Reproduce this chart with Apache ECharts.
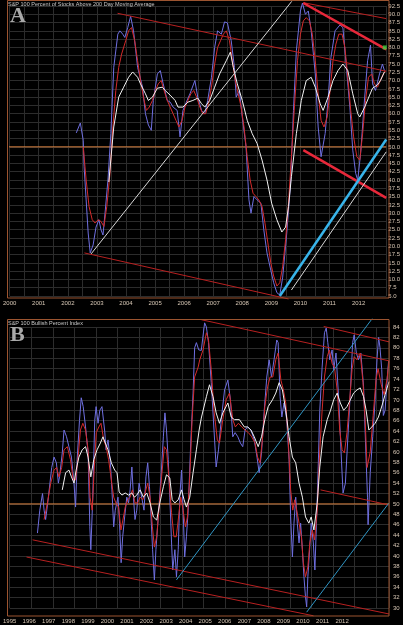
<!DOCTYPE html>
<html><head><meta charset="utf-8">
<script src="https://cdn.jsdelivr.net/npm/echarts@6/dist/echarts.min.js"></script>
<style>html,body{margin:0;padding:0;background:#000;}#c{width:403px;height:625px;}</style>
</head><body><div id="c"></div>
<script>
// ---------- Panel A : S&P 100 Percent of Stocks Above 200 Day Moving Average ----------
const titleA = 'S&P 100 Percent of Stocks Above 200 Day Moving Average';
const blueA = [[2002.29,54.2],[2002.43,57.2],[2002.53,52],[2002.56,44],[2002.63,34],[2002.70,24],[2002.77,18],[2002.87,20.4],[2002.97,25.8],[2003.07,28],[2003.14,25],[2003.21,23.4],[2003.28,30],[2003.38,40],[2003.48,54],[2003.58,74],[2003.72,84],[2003.79,85],[2003.89,84],[2003.96,83],[2004.06,86],[2004.16,89.4],[2004.26,85],[2004.40,74],[2004.57,68],[2004.67,60],[2004.77,56.6],[2004.87,55],[2004.94,64],[2005.08,72],[2005.18,73],[2005.28,69],[2005.42,64],[2005.52,63.5],[2005.62,62],[2005.76,61],[2005.86,53],[2005.96,61],[2006.10,64],[2006.20,66],[2006.37,70],[2006.47,65],[2006.60,61],[2006.71,60],[2006.81,64],[2006.94,71],[2007.05,80],[2007.15,85],[2007.28,84],[2007.39,87.7],[2007.49,87.4],[2007.62,82],[2007.73,74],[2007.79,65],[2007.90,67],[2008.00,59],[2008.13,50],[2008.23,34],[2008.30,30],[2008.40,35],[2008.51,34],[2008.64,33],[2008.74,25],[2008.85,18],[2008.98,12.8],[2009.08,9],[2009.19,6],[2009.29,5.3],[2009.39,10.7],[2009.53,24],[2009.66,39],[2009.76,61],[2009.86,79],[2010.00,91],[2010.07,93.4],[2010.17,90],[2010.27,91],[2010.37,85],[2010.51,72],[2010.61,56],[2010.71,47],[2010.85,54],[2010.95,64],[2011.05,77],[2011.19,85],[2011.36,86.8],[2011.46,86],[2011.56,76],[2011.70,62],[2011.80,49],[2011.90,42],[2011.97,40],[2012.07,48],[2012.21,65],[2012.31,76],[2012.41,80.7],[2012.48,69],[2012.58,67],[2012.72,72],[2012.82,75],[2012.89,73]];
const redA = [[2002.53,50],[2002.63,40],[2002.73,32],[2002.84,28],[2002.94,27],[2003.04,28],[2003.14,27.5],[2003.24,26],[2003.34,32],[2003.45,42],[2003.55,56],[2003.65,67],[2003.75,74],[2003.85,78],[2003.99,82],[2004.09,85],[2004.19,86],[2004.30,82],[2004.40,76],[2004.50,70],[2004.60,65],[2004.70,61],[2004.80,62],[2004.91,64],[2005.01,67],[2005.11,69],[2005.21,70],[2005.31,67],[2005.42,64],[2005.52,62],[2005.62,60],[2005.72,58],[2005.82,56],[2005.93,58],[2006.03,62],[2006.13,64],[2006.23,66],[2006.33,67],[2006.43,65],[2006.54,62],[2006.64,60],[2006.74,60],[2006.84,63],[2006.94,68],[2007.05,75],[2007.15,80],[2007.25,82],[2007.35,84],[2007.45,85],[2007.56,82],[2007.66,76],[2007.76,70],[2007.86,66],[2007.96,62],[2008.06,56],[2008.17,47],[2008.27,40],[2008.37,36],[2008.47,35],[2008.57,34],[2008.68,32],[2008.78,27],[2008.88,21],[2008.98,15],[2009.08,11],[2009.19,8],[2009.29,9],[2009.39,14],[2009.49,22],[2009.59,33],[2009.69,47],[2009.80,63],[2009.90,76],[2010.00,84],[2010.10,88],[2010.20,89],[2010.31,88],[2010.41,84],[2010.51,76],[2010.61,66],[2010.71,58],[2010.81,56],[2010.92,59],[2011.02,67],[2011.12,76],[2011.22,81],[2011.32,84],[2011.43,84],[2011.53,80],[2011.63,71],[2011.73,61],[2011.83,53],[2011.94,47],[2012.04,46],[2012.14,54],[2012.24,64],[2012.34,71],[2012.45,72],[2012.55,69],[2012.65,68],[2012.75,70],[2012.85,72],[2012.92,73]];
const whiteA = [[2003.41,39.4],[2003.58,56],[2003.75,65],[2003.92,68],[2004.09,71],[2004.23,72.6],[2004.40,71],[2004.50,69],[2004.67,66],[2004.77,64],[2004.91,65],[2005.08,67.7],[2005.25,68],[2005.35,67],[2005.52,65.6],[2005.69,64],[2005.79,62],[2005.96,62],[2006.13,63.5],[2006.30,64],[2006.47,64.7],[2006.60,63],[2006.71,62],[2006.88,64],[2007.05,68],[2007.22,72],[2007.45,76],[2007.59,78.6],[2007.69,74],[2007.83,69],[2008.00,64],[2008.17,58],[2008.34,54],[2008.51,51],[2008.68,46],[2008.85,40],[2009.01,33],[2009.19,28],[2009.36,24.3],[2009.49,25.8],[2009.59,32],[2009.69,41],[2009.86,54],[2010.03,64],[2010.20,70],[2010.37,71],[2010.51,68],[2010.68,63],[2010.78,61],[2010.95,65],[2011.12,70],[2011.29,73],[2011.46,75],[2011.63,73],[2011.80,66],[2011.97,60],[2012.04,59],[2012.21,62],[2012.38,65.6],[2012.48,67.7],[2012.65,68.7],[2012.75,70],[2012.89,72.6]];
// trend lines (endpoints) panel A
const aRedUpper = [[2003.71,90.3],[2012.95,72.8]];
const aRedLower = [[2002.57,18.0],[2009.59,4.1]];
const aRedTopRight = [[2010.10,93.5],[2012.95,88.7]];
const aThickRedUpper = [[2010.10,93.4],[2012.95,79.4]];
const aThickRedLower = [[2010.10,49.0],[2012.95,34.6]];
const aCyan = [[2009.29,5.0],[2012.95,52.2]];
const aWhiteTrend1 = [[2002.80,17.7],[2009.70,93.9]];
const aWhiteTrend2 = [[2009.69,6.8],[2012.95,48.5]];
const aLevel50 = [[1999.75,50],[2012.95,50]];
const aMarker = [[2012.9,80]];

// ---------- Panel B : S&P 100 Bullish Percent Index ----------
const titleB = 'S&P 100 Bullish Percent Index';
const blueB = [[1996.42,44.4],[1996.54,48.8],[1996.68,52],[1996.76,48.8],[1996.84,47],[1996.98,51.3],[1997.15,57],[1997.27,59],[1997.39,57.9],[1997.49,54],[1997.55,55.2],[1997.69,59.8],[1997.78,64.2],[1997.90,63],[1998.03,61],[1998.16,59],[1998.29,54],[1998.37,49.4],[1998.45,58.5],[1998.57,66],[1998.66,70.4],[1998.76,68.7],[1998.88,64.8],[1999.01,59.8],[1999.10,45.6],[1999.15,41.2],[1999.25,51.3],[1999.35,66],[1999.42,68.7],[1999.52,65.5],[1999.61,68],[1999.72,68.7],[1999.86,64],[1999.93,60.4],[2000.03,62.3],[2000.15,57.9],[2000.23,52.7],[2000.32,45.6],[2000.40,48.8],[2000.54,51.3],[2000.62,46.3],[2000.70,38.7],[2000.78,43.7],[2000.88,47.5],[2000.99,51.3],[2001.08,50.2],[2001.16,52.7],[2001.25,57.1],[2001.33,51.3],[2001.41,47],[2001.50,48.8],[2001.62,54],[2001.75,51.3],[2001.87,48.8],[2001.97,55.2],[2002.06,57.9],[2002.15,53.3],[2002.23,47.5],[2002.31,41.2],[2002.40,35.4],[2002.48,41.2],[2002.60,47.5],[2002.74,55.2],[2002.86,62.9],[2002.94,67.5],[2003.02,64.2],[2003.11,58.5],[2003.19,51.3],[2003.28,42.5],[2003.34,37.3],[2003.45,41.2],[2003.53,36],[2003.62,41.2],[2003.70,51.3],[2003.79,56.5],[2003.87,48.8],[2003.95,39.8],[2004.04,43.7],[2004.13,48.8],[2004.26,61.7],[2004.38,71.3],[2004.46,80],[2004.55,81],[2004.67,79.6],[2004.80,79.5],[2004.97,84.8],[2005.06,84],[2005.17,81],[2005.31,73.3],[2005.45,64.2],[2005.56,57.1],[2005.68,60.4],[2005.82,66.2],[2005.99,71.9],[2006.16,73.8],[2006.29,70],[2006.41,62.9],[2006.53,63.7],[2006.67,62.9],[2006.80,61.7],[2006.92,61],[2007.04,64.2],[2007.17,64.8],[2007.34,64.2],[2007.51,62.3],[2007.65,59],[2007.76,56],[2007.88,59.8],[2008.02,68],[2008.15,74.4],[2008.27,77.7],[2008.39,74.4],[2008.52,77.7],[2008.66,81.5],[2008.73,81],[2008.83,70.6],[2008.92,66.7],[2009.03,69.4],[2009.17,66.2],[2009.29,58.5],[2009.37,47.5],[2009.46,39.8],[2009.54,46.3],[2009.63,51.3],[2009.71,46.3],[2009.80,42.5],[2009.88,46.3],[2009.97,41.2],[2010.05,36],[2010.13,32.1],[2010.19,30.2],[2010.25,36],[2010.34,41.2],[2010.42,46.3],[2010.53,42.5],[2010.61,37.3],[2010.69,46.3],[2010.78,57.1],[2010.86,68],[2010.98,76.3],[2011.10,82.9],[2011.19,83.8],[2011.27,81],[2011.37,77.7],[2011.49,79.6],[2011.57,75.8],[2011.69,79],[2011.83,70],[2011.95,59.8],[2012.05,52.1],[2012.17,54],[2012.28,61.7],[2012.42,71.3],[2012.54,81],[2012.62,82.5],[2012.73,79],[2012.84,77.7],[2012.96,79],[2013.10,72.5],[2013.20,61.7],[2013.30,51.3],[2013.33,46],[2013.44,56],[2013.57,63],[2013.69,70],[2013.79,78],[2013.87,82],[2013.94,80],[2014.03,75.8],[2014.11,67],[2014.20,68],[2014.28,72.5],[2014.38,77.5]];
const redB = [[1996.76,47],[1996.93,50.2],[1997.10,54],[1997.27,56.5],[1997.40,57],[1997.52,55.2],[1997.66,57],[1997.78,60.4],[1997.95,61],[1998.11,58.5],[1998.25,54.6],[1998.37,54.6],[1998.50,59],[1998.62,64.2],[1998.74,65.5],[1998.88,64.2],[1999.01,60.4],[1999.11,51.3],[1999.22,48.8],[1999.32,56.5],[1999.43,63.7],[1999.56,64.8],[1999.67,65.5],[1999.81,62.3],[1999.93,61],[2000.06,58.5],[2000.20,54.6],[2000.32,51.3],[2000.43,50.2],[2000.57,49.4],[2000.69,45],[2000.79,46.9],[2000.91,49.4],[2001.04,50.8],[2001.16,51.3],[2001.28,52.7],[2001.41,50.2],[2001.55,50.2],[2001.67,51.3],[2001.81,50.8],[2001.92,52.1],[2002.06,54],[2002.18,51.3],[2002.30,45.6],[2002.40,41.7],[2002.52,43.7],[2002.63,48.8],[2002.77,55.2],[2002.91,61],[2003.02,60.4],[2003.14,55.2],[2003.28,48.3],[2003.40,43.7],[2003.52,43.7],[2003.62,46.9],[2003.75,51.3],[2003.87,48.8],[2003.99,45.6],[2004.09,47.5],[2004.21,55.2],[2004.33,66.2],[2004.46,74.4],[2004.64,76.3],[2004.72,77.7],[2004.89,79.6],[2005.06,82.9],[2005.17,81.5],[2005.31,75.8],[2005.45,68],[2005.62,62.3],[2005.73,61.7],[2005.90,66.2],[2006.07,70],[2006.24,71.3],[2006.41,66.2],[2006.54,64.8],[2006.70,65.5],[2006.87,64.8],[2007.04,64.2],[2007.21,63.7],[2007.38,62.9],[2007.55,61.7],[2007.68,59],[2007.80,57.9],[2007.94,62.9],[2008.05,68.7],[2008.19,72.5],[2008.32,74.4],[2008.46,74.4],[2008.61,77.7],[2008.73,79],[2008.87,73.8],[2009.00,71.9],[2009.12,69.4],[2009.24,62.9],[2009.37,52.7],[2009.48,48.8],[2009.58,50.8],[2009.68,48.8],[2009.80,46.3],[2009.92,43.7],[2010.02,38.7],[2010.13,36],[2010.25,37.9],[2010.35,42.5],[2010.48,45],[2010.59,43.1],[2010.73,48.8],[2010.86,60.4],[2010.98,68],[2011.10,74.4],[2011.24,78.3],[2011.35,79.6],[2011.49,77],[2011.61,76.3],[2011.75,71.9],[2011.88,64.2],[2012.00,60.4],[2012.12,59.8],[2012.25,63.7],[2012.39,70],[2012.51,75.8],[2012.62,78.3],[2012.76,77.7],[2012.93,79],[2013.07,73.3],[2013.18,66.2],[2013.28,57],[2013.44,60],[2013.59,67],[2013.74,74],[2013.84,76],[2014.00,73],[2014.15,71],[2014.30,74],[2014.40,77.5]];
const whiteB = [[1997.69,52.7],[1997.86,56],[1998.03,56.5],[1998.16,55.2],[1998.29,54],[1998.40,56.5],[1998.54,59],[1998.71,60.4],[1998.88,61],[1999.01,59],[1999.15,55.2],[1999.30,58.5],[1999.47,60.4],[1999.64,61.7],[1999.77,62.9],[1999.89,61.7],[2000.03,60.4],[2000.20,57.9],[2000.37,56.5],[2000.49,56],[2000.60,52.3],[2000.74,51.7],[2000.91,52.1],[2001.08,51.7],[2001.25,52.1],[2001.38,51.3],[2001.50,51.7],[2001.67,52.7],[2001.84,51.3],[2002.01,52.1],[2002.18,50.2],[2002.35,47.5],[2002.52,46.9],[2002.68,50.2],[2002.86,53.3],[2003.02,55.6],[2003.19,55],[2003.31,50.8],[2003.45,50.2],[2003.62,50.8],[2003.79,52.7],[2003.92,50.8],[2004.04,49.4],[2004.21,51.3],[2004.38,56],[2004.55,60.4],[2004.69,64.2],[2004.80,66.5],[2005.06,70.6],[2005.22,72.9],[2005.40,70.6],[2005.56,67.5],[2005.73,65.5],[2005.90,67.5],[2006.16,69.4],[2006.33,66.7],[2006.49,66.2],[2006.75,66.2],[2007.00,64.8],[2007.17,64.8],[2007.34,64.2],[2007.51,62.9],[2007.71,61],[2007.88,62.9],[2008.05,66.2],[2008.22,68.7],[2008.44,70],[2008.61,71.3],[2008.78,73.3],[2008.95,71.9],[2009.12,68],[2009.29,62.9],[2009.46,59],[2009.63,57.9],[2009.80,54],[2009.97,51.3],[2010.13,47.5],[2010.30,46.3],[2010.42,47.5],[2010.56,45],[2010.73,50.2],[2010.86,57.1],[2011.03,62.9],[2011.24,66.2],[2011.41,68],[2011.57,70],[2011.75,71.3],[2011.91,69.4],[2012.08,68],[2012.25,68.7],[2012.42,70],[2012.59,71.3],[2012.76,71.9],[2012.93,72.3],[2013.10,70.6],[2013.23,68],[2013.37,64.2],[2013.52,64.8],[2013.69,65.5],[2013.86,66.7],[2014.05,69],[2014.20,71],[2014.40,73.5]];
const bRedUpper = [[2004.80,85.4],[2014.40,77.5]];
const bRedUpperRight = [[2011.06,84.1],[2014.40,81.15]];
const bRedMidRight = [[2010.90,52.7],[2014.40,49.8]];
const bRedLower1 = [[1996.17,43.1],[2014.40,28.85]];
const bRedLower2 = [[1995.86,39.8],[2010.54,28.5]];
const bCyan1 = [[2003.53,35.4],[2013.54,85.6]];
const bCyan2 = [[2010.19,29.2],[2014.40,50.2]];
const bLevel50 = [[1994.64,50],[2014.40,50]];

// ---------- chart ----------
const labelColor = '#d6c6b4';
const gridColor = '#2c2c2c';
const frameColor = '#9c5430';
const font = 'Liberation Sans';

function ln(data, color, width, panel, z) {
  return { type: 'line', data: data, xAxisIndex: panel, yAxisIndex: panel,
    showSymbol: false, symbol: 'none', clip: false, silent: true, z: z || 2,
    lineStyle: { color: color, width: width } };
}

const chart = echarts.init(document.getElementById('c'));
chart.setOption({
  animation: false,
  backgroundColor: '#000',
  grid: [
    { left: 7, right: 14, top: 6, height: 290 },
    { left: 7, right: 14, top: 327, height: 281 }
  ],
  xAxis: [
    { type: 'value', gridIndex: 0, min: 2000, max: 2012.954, interval: 0.5,
      axisLine: { show: false }, axisTick: { show: false },
      axisLabel: { fontSize: 6, color: labelColor, fontFamily: font, margin: 4,
        formatter: v => (Math.abs(v - Math.round(v)) < 1e-6 && v <= 2012) ? String(Math.round(v)) : '' },
      splitLine: { show: true, lineStyle: { color: gridColor, width: 1 } } },
    { type: 'value', gridIndex: 1, min: 1995, max: 2014.40, interval: 1,
      axisLine: { show: false }, axisTick: { show: false },
      axisLabel: { fontSize: 6, color: labelColor, fontFamily: font, margin: 10,
        formatter: v => (Math.abs(v - Math.round(v)) < 1e-6 && v <= 2012) ? String(Math.round(v)) : '' },
      splitLine: { show: false } },
    { type: 'value', gridIndex: 1, min: 0, max: 17.6, interval: 1, position: 'top',
      axisLine: { show: false }, axisTick: { show: false }, axisLabel: { show: false },
      splitLine: { show: true, lineStyle: { color: gridColor, width: 1 } } }
  ],
  yAxis: [
    { type: 'value', gridIndex: 0, position: 'right', min: 5, max: 92.5, interval: 2.5,
      axisLine: { show: false }, axisTick: { show: false },
      axisLabel: { fontSize: 6, color: labelColor, fontFamily: font, margin: 2, formatter: v => v.toFixed(1) },
      splitLine: { show: true, lineStyle: { color: gridColor, width: 1 } } },
    { type: 'value', gridIndex: 1, position: 'right', min: 30, max: 84, interval: 2,
      axisLine: { show: false }, axisTick: { show: false },
      axisLabel: { fontSize: 6, color: labelColor, fontFamily: font, margin: 4 },
      splitLine: { show: true, lineStyle: { color: gridColor, width: 1 } } }
  ],
  series: [
    ln(aLevel50, '#d9803f', 1, 0, 1),
    ln(blueA, '#6f6fe0', 1, 0),
    ln(redA, '#d42a2a', 1, 0),
    ln(whiteA, '#f2f2f2', 1, 0),
    ln(aRedUpper, '#b82020', 1, 0, 3),
    ln(aRedLower, '#b82020', 1, 0, 3),
    ln(aRedTopRight, '#b82020', 1, 0, 3),
    ln(aThickRedUpper, '#e8283a', 2.5, 0, 3),
    ln(aThickRedLower, '#e8283a', 2.5, 0, 3),
    ln(aWhiteTrend1, '#d8d8d8', 1, 0, 3),
    ln(aWhiteTrend2, '#d8d8d8', 1, 0, 3),
    ln(aCyan, '#38b4ea', 2.5, 0, 3),
    { type: 'scatter', data: aMarker, xAxisIndex: 0, yAxisIndex: 0, symbol: 'rect', symbolSize: 4,
      itemStyle: { color: '#3fd23f' }, silent: true, z: 4 },

    { type: 'line', data: bLevel50, xAxisIndex: 1, yAxisIndex: 1, showSymbol: false, symbol: 'none',
      clip: false, silent: true, z: 1, lineStyle: { color: '#d9803f', width: 1 } },
    ln(blueB, '#6f6fe0', 1, 1),
    ln(redB, '#d42a2a', 1, 1),
    ln(whiteB, '#f2f2f2', 1, 1),
    ln(bRedUpper, '#b82020', 1, 1, 3),
    ln(bRedUpperRight, '#b82020', 1, 1, 3),
    ln(bRedMidRight, '#b82020', 1, 1, 3),
    ln(bRedLower1, '#b82020', 1, 1, 3),
    ln(bRedLower2, '#b82020', 1, 1, 3),
    ln(bCyan1, '#2f95c4', 1, 1, 3),
    ln(bCyan2, '#2f95c4', 1, 1, 3)
  ],
  graphic: [
    { type: 'rect', shape: { x: 7.5, y: 0.5, width: 381.5, height: 297.5 }, style: { fill: null, stroke: frameColor, lineWidth: 1 }, z: 10, silent: true },
    { type: 'rect', shape: { x: 7.5, y: 319.5, width: 381.5, height: 296.5 }, style: { fill: null, stroke: frameColor, lineWidth: 1 }, z: 10, silent: true },
    { type: 'text', left: 8, top: 1, style: { text: titleA, fill: '#c8c8c8', font: '5.5px "Liberation Sans"' }, z: 11, silent: true },
    { type: 'text', left: 8, top: 320, style: { text: titleB, fill: '#c8c8c8', font: '5.5px "Liberation Sans"' }, z: 11, silent: true },
    { type: 'text', left: 10, top: 5, style: { text: 'A', fill: '#a9a9a9', font: 'bold 22px "Liberation Serif"' }, z: 11, silent: true },
    { type: 'text', left: 10, top: 324, style: { text: 'B', fill: '#a9a9a9', font: 'bold 22px "Liberation Serif"' }, z: 11, silent: true }
  ]
});
</script></body></html>
